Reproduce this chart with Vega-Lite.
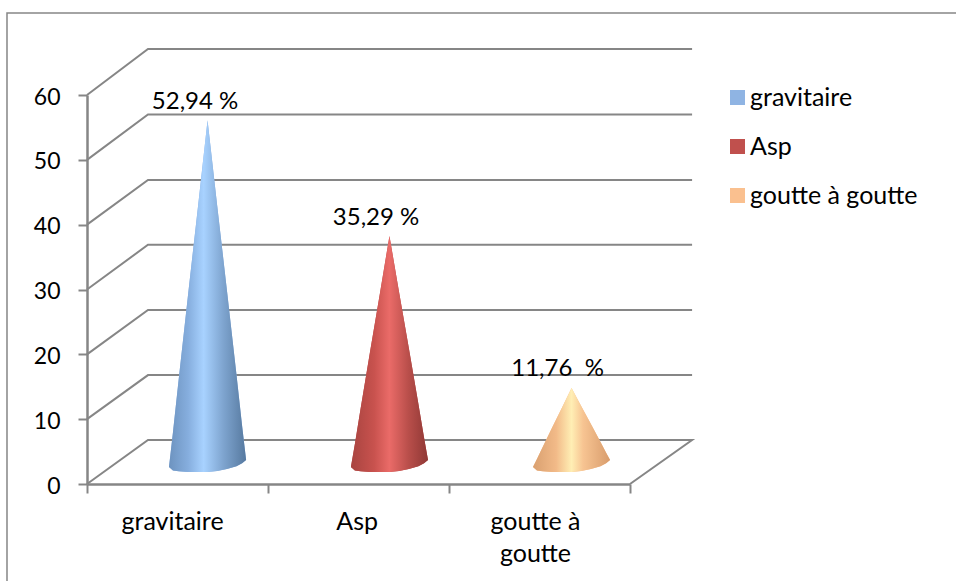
{"$schema":"https://vega.github.io/schema/vega-lite/v6.json","width":543,"height":389,"autosize":{"type":"none"},"padding":{"left":87,"top":95,"right":326,"bottom":97},"background":"white","config":{"view":{"stroke":null},"font":"Lato"},
"datasets":{
"frame":[{"x":-0.442,"y":-14.96,"i":0},{"x":-0.442,"y":72.65,"i":1},{"x":4.82,"y":72.65,"i":2}],
"grid":[
{"v":0,"i":0,"x":0,"y":0},{"v":0,"i":1,"x":0.337,"y":6.79},{"v":0,"i":2,"x":3.343,"y":6.79},{"v":0,"i":3,"x":3,"y":0},
{"v":10,"i":0,"x":0,"y":10},{"v":10,"i":1,"x":0.337,"y":16.8},{"v":10,"i":2,"x":3.343,"y":16.8},
{"v":20,"i":0,"x":0,"y":20},{"v":20,"i":1,"x":0.337,"y":26.84},{"v":20,"i":2,"x":3.343,"y":26.84},
{"v":30,"i":0,"x":0,"y":30},{"v":30,"i":1,"x":0.337,"y":36.9},{"v":30,"i":2,"x":3.343,"y":36.9},
{"v":40,"i":0,"x":0,"y":40},{"v":40,"i":1,"x":0.337,"y":46.9},{"v":40,"i":2,"x":3.343,"y":46.9},
{"v":50,"i":0,"x":0,"y":50},{"v":50,"i":1,"x":0.337,"y":57},{"v":50,"i":2,"x":3.343,"y":57},
{"v":60,"i":0,"x":0,"y":60},{"v":60,"i":1,"x":0.337,"y":67.1},{"v":60,"i":2,"x":3.343,"y":67.1}],
"cones":[
{"c":"gravitaire","x":0.453,"top":2.62,"bottom":2.62},{"c":"gravitaire","x":0.475,"top":7.97,"bottom":2.1},{"c":"gravitaire","x":0.506,"top":15.99,"bottom":1.95},{"c":"gravitaire","x":0.559,"top":29.36,"bottom":1.87},{"c":"gravitaire","x":0.613,"top":42.73,"bottom":1.85},{"c":"gravitaire","x":0.666,"top":56.1,"bottom":1.87},{"c":"gravitaire","x":0.719,"top":43,"bottom":2.0},{"c":"gravitaire","x":0.773,"top":29.9,"bottom":2.3},{"c":"gravitaire","x":0.826,"top":16.8,"bottom":2.75},{"c":"gravitaire","x":0.857,"top":8.94,"bottom":3.2},{"c":"gravitaire","x":0.879,"top":3.7,"bottom":3.7},
{"c":"Asp","x":1.458,"top":2.62,"bottom":2.62},{"c":"Asp","x":1.48,"top":6.18,"bottom":2.1},{"c":"Asp","x":1.511,"top":11.53,"bottom":1.95},{"c":"Asp","x":1.564,"top":20.44,"bottom":1.87},{"c":"Asp","x":1.618,"top":29.34,"bottom":1.85},{"c":"Asp","x":1.671,"top":38.25,"bottom":1.87},{"c":"Asp","x":1.724,"top":29.61,"bottom":2.0},{"c":"Asp","x":1.778,"top":20.98,"bottom":2.3},{"c":"Asp","x":1.831,"top":12.34,"bottom":2.75},{"c":"Asp","x":1.862,"top":7.16,"bottom":3.2},{"c":"Asp","x":1.884,"top":3.7,"bottom":3.7},
{"c":"goutte à goutte","x":2.464,"top":2.62,"bottom":2.62},{"c":"goutte à goutte","x":2.486,"top":3.84,"bottom":2.1},{"c":"goutte à goutte","x":2.517,"top":5.67,"bottom":1.95},{"c":"goutte à goutte","x":2.57,"top":8.71,"bottom":1.87},{"c":"goutte à goutte","x":2.624,"top":11.76,"bottom":1.85},{"c":"goutte à goutte","x":2.677,"top":14.8,"bottom":1.87},{"c":"goutte à goutte","x":2.73,"top":12.03,"bottom":2.0},{"c":"goutte à goutte","x":2.784,"top":9.25,"bottom":2.3},{"c":"goutte à goutte","x":2.837,"top":6.48,"bottom":2.75},{"c":"goutte à goutte","x":2.868,"top":4.81,"bottom":3.2},{"c":"goutte à goutte","x":2.89,"top":3.7,"bottom":3.7}],
"labels":[{"t":"52,94 %","x":0.597,"y":58.9},{"t":"35,29 %","x":1.597,"y":41.0},{"t":"11,76\u00a0 %","x":2.6,"y":17.7}]
},
"layer":[
{"data":{"name":"frame"},"mark":{"type":"line","color":"#868686","strokeWidth":1.5,"clip":false},
 "encoding":{"x":{"field":"x","type":"quantitative","scale":{"domain":[0,3],"nice":false,"zero":false},
   "axis":{"title":null,"grid":false,"values":[0,0.47,1,1.49,2,2.475,3],"domainColor":"#868686","domainWidth":2.5,"tickColor":"#868686","tickWidth":2,"tickSize":9,"tickOpacity":{"condition":{"test":"datum.value % 1 != 0","value":0},"value":1},"labelFont":"Lato","labelFontSize":25,"labelColor":"#000000","labelPadding":16,"labelLineHeight":32,"labelOverlap":false,"labelBound":false,"labelFlush":false,"labelExpr":"datum.value==0.47?'gravitaire':datum.value==1.49?'Asp':datum.value==2.475?['goutte à','goutte']:''"}},
  "y":{"field":"y","type":"quantitative","scale":{"domain":[0,60],"nice":false,"zero":false},
   "axis":{"title":null,"grid":false,"values":[0,10,20,30,40,50,60],"domainColor":"#868686","domainWidth":2.5,"tickColor":"#868686","tickWidth":2,"tickSize":9,"labelFont":"Lato","labelFontSize":23,"labelColor":"#000000","labelPadding":18,"labelOffset":2,"labelOverlap":false,"labelBound":false}},
  "order":{"field":"i","type":"quantitative"}}},
{"data":{"name":"grid"},"mark":{"type":"line","color":"#868686","strokeWidth":2,"clip":false},
 "encoding":{"x":{"field":"x","type":"quantitative"},"y":{"field":"y","type":"quantitative"},"detail":{"field":"v"},"order":{"field":"i","type":"quantitative"}}},
{"data":{"name":"cones"},"mark":{"type":"area","orient":"vertical","clip":false},
 "encoding":{"x":{"field":"x","type":"quantitative"},"y":{"field":"top","type":"quantitative","stack":null},"y2":{"field":"bottom"},
  "color":{"field":"c","type":"nominal","scale":{"domain":["gravitaire","Asp","goutte à goutte"],"range":["#8fb4e3","#c0504d","#fac08f"]},
   "legend":{"title":null,"orient":"none","legendX":638,"legendY":-10,"symbolType":"square","symbolSize":225,"symbolOpacity":1,"symbolStrokeWidth":0,"labelFont":"Lato","labelFontSize":25,"labelColor":"#000000","labelOffset":0,"labelLimit":400,"rowPadding":23}}}},
{"data":{"name":"cones"},"transform":[{"filter":"datum.c=='gravitaire'"}],"mark":{"type":"area","orient":"vertical","clip":false,"fill":{"gradient":"linear","x1":0,"x2":1,"y1":0,"y2":0,"stops":[{"offset":0,"color":"#6d93bf"},{"offset":0.25,"color":"#86aede"},{"offset":0.45,"color":"#a8d2ff"},{"offset":0.7,"color":"#7fa5d0"},{"offset":1,"color":"#56799f"}]}},
 "encoding":{"x":{"field":"x","type":"quantitative"},"y":{"field":"top","type":"quantitative","stack":null},"y2":{"field":"bottom"}}},
{"data":{"name":"cones"},"transform":[{"filter":"datum.c=='Asp'"}],"mark":{"type":"area","orient":"vertical","clip":false,"fill":{"gradient":"linear","x1":0,"x2":1,"y1":0,"y2":0,"stops":[{"offset":0,"color":"#a84440"},{"offset":0.3,"color":"#c8524e"},{"offset":0.5,"color":"#ea6b68"},{"offset":0.75,"color":"#b84e4a"},{"offset":1,"color":"#8f3835"}]}},
 "encoding":{"x":{"field":"x","type":"quantitative"},"y":{"field":"top","type":"quantitative","stack":null},"y2":{"field":"bottom"}}},
{"data":{"name":"cones"},"transform":[{"filter":"datum.c=='goutte à goutte'"}],"mark":{"type":"area","orient":"vertical","clip":false,"fill":{"gradient":"linear","x1":0,"x2":1,"y1":0,"y2":0,"stops":[{"offset":0,"color":"#d9a070"},{"offset":0.3,"color":"#f2ba88"},{"offset":0.5,"color":"#ffeeb4"},{"offset":0.65,"color":"#f7c492"},{"offset":1,"color":"#d89c6c"}]}},
 "encoding":{"x":{"field":"x","type":"quantitative"},"y":{"field":"top","type":"quantitative","stack":null},"y2":{"field":"bottom"}}},
{"data":{"name":"labels"},"mark":{"type":"text","font":"Lato","fontSize":24,"color":"#000000","baseline":"middle","clip":false},
 "encoding":{"x":{"field":"x","type":"quantitative"},"y":{"field":"y","type":"quantitative"},"text":{"field":"t"}}}
]}
